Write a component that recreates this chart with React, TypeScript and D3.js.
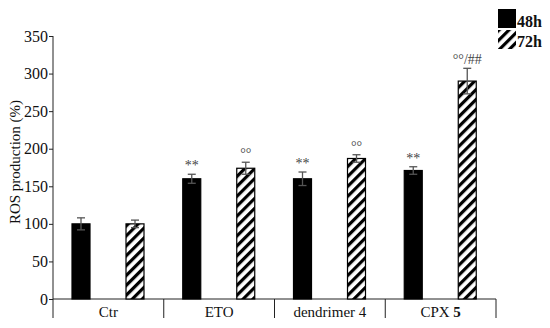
import React, { useEffect, useRef } from 'react';
import * as d3 from 'd3';

const categories = ['Ctr', 'ETO', 'dendrimer 4', 'CPX 5'];
const series = ['48h', '72h'];
const values48 = [100, 160, 160, 171];
const errors48 = [8, 6, 9, 5];
const values72 = [100, 174, 187, 290];
const errors72 = [5, 8, 5, 17];
const marks48 = ['', '**', '**', '**'];
const marks72 = ['', '°°', '°°', '°°/##'];
const yTicks = [0, 50, 100, 150, 200, 250, 300, 350];

const FONT = 'Liberation Serif';

const App: React.FC = () => {
  const svgRef = useRef<SVGSVGElement>(null);

  useEffect(() => {
    if (!svgRef.current) return;
    const svg = d3.select(svgRef.current);
    svg.selectAll('*').remove();

    const left = 53, right = 496, top = 36, bottom = 299;

    // hatch pattern
    const defs = svg.append('defs');
    const pat = defs.append('pattern')
      .attr('id', 'hatch')
      .attr('patternUnits', 'userSpaceOnUse')
      .attr('width', 7)
      .attr('height', 7)
      .attr('patternTransform', 'rotate(45)');
    pat.append('rect').attr('width', 7).attr('height', 7).attr('fill', 'white');
    pat.append('rect').attr('x', 0).attr('width', 3.2).attr('height', 7).attr('fill', 'black');

    const y = d3.scaleLinear().domain([0, 350]).range([bottom, top]);
    const x0 = d3.scaleBand().domain(categories).range([left, right]).padding(0);
    // two bars inside each group
    const x1 = d3.scaleBand().domain(series).range([19, 91]).paddingInner(2 / 3).paddingOuter(0);

    // y axis
    const yAxis = svg.append('g')
      .attr('transform', `translate(${left},0)`)
      .call(d3.axisLeft(y).tickValues(yTicks).tickSize(4).tickSizeOuter(0));
    yAxis.attr('font-family', FONT).attr('font-size', 16);
    yAxis.select('.domain').remove();
    yAxis.selectAll('text')
      .attr('fill', '#111')
      .attr('x', -5);
    yAxis.selectAll('line').attr('stroke', '#222');

    svg.append('line')
      .attr('x1', left).attr('x2', left)
      .attr('y1', y(350)).attr('y2', 318)
      .attr('stroke', '#222');

    // x axis line and separators
    svg.append('line')
      .attr('x1', left).attr('x2', right)
      .attr('y1', bottom).attr('y2', bottom)
      .attr('stroke', '#222');
    categories.forEach((c, i) => {
      const xe = (x0(c) as number) + x0.bandwidth();
      svg.append('line')
        .attr('x1', xe).attr('x2', xe)
        .attr('y1', bottom).attr('y2', 318)
        .attr('stroke', '#222');
      const t = svg.append('text')
        .attr('x', (x0(c) as number) + x0.bandwidth() / 2)
        .attr('y', 317)
        .attr('text-anchor', 'middle')
        .attr('font-family', FONT)
        .attr('font-size', 15)
        .attr('fill', '#111');
      if (i === 3) {
        t.append('tspan').text('CPX ');
        t.append('tspan').attr('font-weight', 'bold').text('5');
      } else {
        t.text(c);
      }
    });

    // bars
    const data = categories.map((c, i) => ({
      c,
      bars: [
        { s: '48h', v: values48[i], e: errors48[i], m: marks48[i] },
        { s: '72h', v: values72[i], e: errors72[i], m: marks72[i] },
      ],
    }));

    const groups = svg.selectAll('.grp')
      .data(data)
      .enter()
      .append('g')
      .attr('class', 'grp')
      .attr('transform', d => `translate(${x0(d.c)},0)`);

    const bar = groups.selectAll('.bar')
      .data(d => d.bars)
      .enter()
      .append('g')
      .attr('class', 'bar');

    bar.append('rect')
      .attr('x', d => x1(d.s) as number)
      .attr('y', d => y(d.v))
      .attr('width', x1.bandwidth())
      .attr('height', d => bottom - y(d.v))
      .attr('fill', d => (d.s === '48h' ? 'black' : 'url(#hatch)'))
      .attr('stroke', 'black')
      .attr('stroke-width', 1.2);

    // error bars
    const cx = (d: any) => (x1(d.s) as number) + x1.bandwidth() / 2;
    bar.append('line')
      .attr('x1', cx).attr('x2', cx)
      .attr('y1', d => y(d.v - d.e)).attr('y2', d => y(d.v + d.e))
      .attr('stroke', '#555').attr('stroke-width', 1.3);
    bar.append('line')
      .attr('x1', d => cx(d) - 4).attr('x2', d => cx(d) + 4)
      .attr('y1', d => y(d.v + d.e)).attr('y2', d => y(d.v + d.e))
      .attr('stroke', '#555').attr('stroke-width', 1.3);
    bar.append('line')
      .attr('x1', d => cx(d) - 4).attr('x2', d => cx(d) + 4)
      .attr('y1', d => y(d.v - d.e)).attr('y2', d => y(d.v - d.e))
      .attr('stroke', '#555').attr('stroke-width', 1.3);

    // significance marks
    bar.append('text')
      .attr('x', cx)
      .attr('y', d => y(d.v + d.e) - 4)
      .attr('text-anchor', 'middle')
      .attr('font-family', FONT)
      .attr('font-size', 14)
      .attr('fill', '#444')
      .text(d => d.m);

    // y label
    svg.append('text')
      .attr('transform', `translate(20,162) rotate(-90)`)
      .attr('text-anchor', 'middle')
      .attr('font-family', FONT)
      .attr('font-size', 15)
      .attr('fill', '#111')
      .text('ROS production (%)');

    // legend
    const legend = svg.append('g').attr('transform', 'translate(498,9)');
    series.forEach((s, i) => {
      legend.append('rect')
        .attr('x', 0).attr('y', i * 21)
        .attr('width', 18).attr('height', 19)
        .attr('fill', s === '48h' ? 'black' : 'url(#hatch)');
      legend.append('text')
        .attr('x', 19).attr('y', i * 20 + 18)
        .attr('font-family', FONT)
        .attr('font-size', 16)
        .attr('font-weight', 'bold')
        .attr('fill', '#111')
        .text(s);
    });
  }, []);

  return <svg ref={svgRef} width={550} height={328} style={{ display: 'block', position: 'absolute', left: 0, top: 0, background: 'white' }} />;
};

export default App;
